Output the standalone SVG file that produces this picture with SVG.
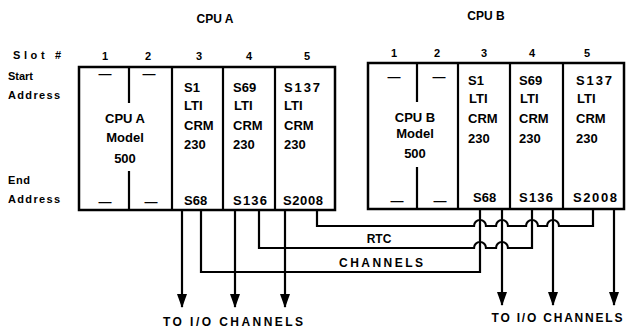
<svg xmlns="http://www.w3.org/2000/svg" width="628" height="329" viewBox="0 0 628 329">
<defs>
<style>
text{font-family:"Liberation Sans",Arial,sans-serif;font-weight:bold;fill:#000}
.t{font-size:12px}
.s{font-size:11px}
.l{font-size:12px}
.m{font-size:13px}
.c{text-anchor:middle}
.frame{fill:#fff;stroke:#000;stroke-width:2.5}
.div{stroke:#000;stroke-width:2.2;fill:none}
.ln{stroke:#000;stroke-width:2.2;fill:none}
</style>
<marker id="ah" viewBox="0 0 14 10" refX="13" refY="5" markerWidth="14" markerHeight="10" markerUnits="userSpaceOnUse" orient="auto">
<path d="M0,0 L14,5 L0,10 Z" fill="#000"/>
</marker>
</defs>
<rect width="628" height="329" fill="#fff"/>

<g id="labels">
<text class="t c" x="215" y="23">CPU A</text>
<text class="t c" x="486" y="20">CPU B</text>
<text class="s" x="13" y="59" textLength="48">Slot #</text>
<text class="s" x="8" y="80" textLength="25">Start</text>
<text class="s" x="8" y="99" textLength="52">Address</text>
<text class="s" x="8" y="184" textLength="22">End</text>
<text class="s" x="8" y="203" textLength="52">Address</text>
</g>

<g id="cpuA">
<rect class="frame" x="79" y="67" width="256" height="143"/>
<path class="div" d="M129,67 V103 M129,171 V210 M172,67 V210 M223,67 V210 M275,67 V210"/>
<text class="s c" x="105" y="60">1</text>
<text class="s c" x="148" y="60">2</text>
<text class="s c" x="199" y="60">3</text>
<text class="s c" x="249" y="60">4</text>
<text class="s c" x="307" y="60">5</text>
<text class="m c" x="105" y="78">—</text>
<text class="m c" x="149" y="78">—</text>
<text class="m c" x="125" y="123">CPU A</text>
<text class="m c" x="125" y="142">Model</text>
<text class="m c" x="125" y="163">500</text>
<text class="m c" x="105" y="206">—</text>
<text class="m c" x="151" y="206">—</text>
</g>

<g id="cpuA-slot3">
<text class="m" x="184" y="92">S1</text>
<text class="m" x="184" y="110">LTI</text>
<text class="m" x="184" y="130">CRM</text>
<text class="m" x="184" y="149">230</text>
<text class="m" x="184" y="205">S68</text>
</g>
<g id="cpuA-slot4">
<text class="m" x="233" y="92">S69</text>
<text class="m" x="234" y="110">LTI</text>
<text class="m" x="233" y="130">CRM</text>
<text class="m" x="233" y="149">230</text>
<text class="m" x="233" y="205" textLength="34">S136</text>
</g>
<g id="cpuA-slot5">
<text class="m" x="284" y="92" textLength="36">S137</text>
<text class="m" x="284" y="110">LTI</text>
<text class="m" x="284" y="130">CRM</text>
<text class="m" x="284" y="149">230</text>
<text class="m" x="283" y="205" textLength="40">S2008</text>
</g>

<g id="cpuB">
<rect class="frame" x="368" y="63" width="256" height="146"/>
<path class="div" d="M417,63 V102 M417,167 V209 M458,63 V209 M510,63 V209 M563,63 V209"/>
<text class="s c" x="394" y="57">1</text>
<text class="s c" x="437" y="57">2</text>
<text class="s c" x="484" y="57">3</text>
<text class="s c" x="532" y="57">4</text>
<text class="s c" x="587" y="57">5</text>
<text class="m c" x="394" y="81">—</text>
<text class="m c" x="439" y="81">—</text>
<text class="m c" x="415" y="122">CPU B</text>
<text class="m c" x="415" y="138">Model</text>
<text class="m c" x="415" y="158">500</text>
<text class="m c" x="397" y="205">—</text>
<text class="m c" x="440" y="205">—</text>
</g>

<g id="cpuB-slot3">
<text class="m" x="468" y="85">S1</text>
<text class="m" x="469" y="103">LTI</text>
<text class="m" x="468" y="123">CRM</text>
<text class="m" x="468" y="143">230</text>
<text class="m" x="473" y="202">S68</text>
</g>
<g id="cpuB-slot4">
<text class="m" x="519" y="85">S69</text>
<text class="m" x="520" y="103">LTI</text>
<text class="m" x="519" y="123">CRM</text>
<text class="m" x="519" y="143">230</text>
<text class="m" x="519" y="202" textLength="34">S136</text>
</g>
<g id="cpuB-slot5">
<text class="m" x="576" y="85" textLength="36">S137</text>
<text class="m" x="577" y="103">LTI</text>
<text class="m" x="576" y="123">CRM</text>
<text class="m" x="576" y="143">230</text>
<text class="m" x="573" y="202" textLength="44">S2008</text>
</g>

<g id="connectors">
<path class="ln" d="M182,210 V307" marker-end="url(#ah)"/>
<path class="ln" d="M235,210 V307" marker-end="url(#ah)"/>
<path class="ln" d="M285,210 V307" marker-end="url(#ah)"/>
<path class="ln" d="M502,209 V305" marker-end="url(#ah)"/>
<path class="ln" d="M553,209 V305" marker-end="url(#ah)"/>
<path class="ln" d="M614,209 V305" marker-end="url(#ah)"/>
<path class="ln" d="M317,210 V226 H474 A6,6 0 0 1 486,226 H496 A6,6 0 0 1 508,226 H526 A6,6 0 0 1 538,226 H547 A6,6 0 0 1 559,226 H593 V209"/>
<path class="ln" d="M259,210 V248 H474 A6,6 0 0 1 486,248 H496 A6,6 0 0 1 508,248 H532 V209"/>
<path class="ln" d="M201,210 V272 H480 V209"/>
</g>

<g id="connector-labels">
<text class="l c" x="379" y="243">RTC</text>
<text class="l c" x="381" y="267" textLength="84">CHANNELS</text>
<text class="l c" x="233" y="326" textLength="140">TO I/O CHANNELS</text>
<text class="l c" x="557" y="322" textLength="131">TO I/O CHANNELS</text>
</g>
</svg>
